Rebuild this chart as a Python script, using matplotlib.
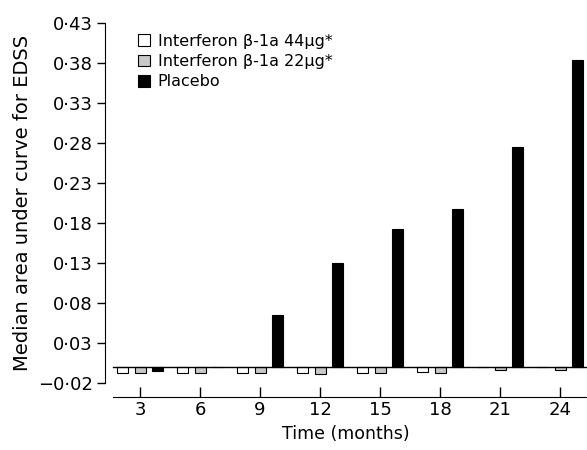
import numpy as np
import matplotlib.pyplot as plt

plt.rcParams['font.family'] = ['DejaVu Sans']

months = [3, 6, 9, 12, 15, 18, 21, 24]
ifn44 = [-0.007, -0.007, -0.007, -0.008, -0.007, -0.006, 0.0, 0.0]
ifn22 = [-0.007, -0.007, -0.007, -0.009, -0.007, -0.007, -0.004, -0.004]
placebo = [-0.005, 0.0, 0.065, 0.130, 0.173, 0.197, 0.275, 0.384]
labels = ['Interferon \u03b2-1a 44\u03bcg*', 'Interferon \u03b2-1a 22\u03bcg*', 'Placebo']
yticks = [-0.02, 0.03, 0.08, 0.13, 0.18, 0.23, 0.28, 0.33, 0.38, 0.43]

fig = plt.figure(figsize=(5.87, 4.5), dpi=100)
ax = fig.add_axes([105 / 587, 67 / 450, 482 / 587, 360 / 450])

x = np.array(months)
w = 0.55
off = 0.875
ax.bar(x - off, ifn44, w, color='white', edgecolor='black', linewidth=0.8, label=labels[0])
ax.bar(x, ifn22, w, color='#c8c8c8', edgecolor='black', linewidth=0.8, label=labels[1])
ax.bar(x + off, placebo, w, color='black', edgecolor='black', linewidth=0.8, label=labels[2])

ax.plot([1.65, 26], [0, 0], color='black', linewidth=1.0)

ax.set_xlim(1.25, 25.35)
ax.set_ylim(-0.02, 0.43)

ax.spines['top'].set_visible(False)
ax.spines['right'].set_visible(False)
ax.spines['bottom'].set_position(('outward', 10))
ax.spines['bottom'].set_bounds(1.65, 25.35)

ax.set_yticks(yticks)
ax.set_yticklabels([('\u2212' if v < 0 else '') + ('%.2f' % abs(v)).replace('.', '\u00b7') for v in yticks])
ax.set_xticks(months)
ax.set_xticklabels([str(m) for m in months])
ax.tick_params(axis='x', direction='in', length=7, width=1, labelsize=13, pad=3)
ax.tick_params(axis='y', direction='out', length=6, width=1, labelsize=13, pad=3)

ax.set_xlabel('Time (months)', fontsize=12.5, labelpad=4)
ax.set_ylabel('Median area under curve for EDSS', fontsize=14, labelpad=4)

ax.legend(loc='upper left', bbox_to_anchor=(0.038, 1.01), frameon=False, fontsize=11.5,
          handlelength=0.75, handleheight=0.75, handletextpad=0.5, labelspacing=0.33)

fig.savefig('out.png', dpi=100)
